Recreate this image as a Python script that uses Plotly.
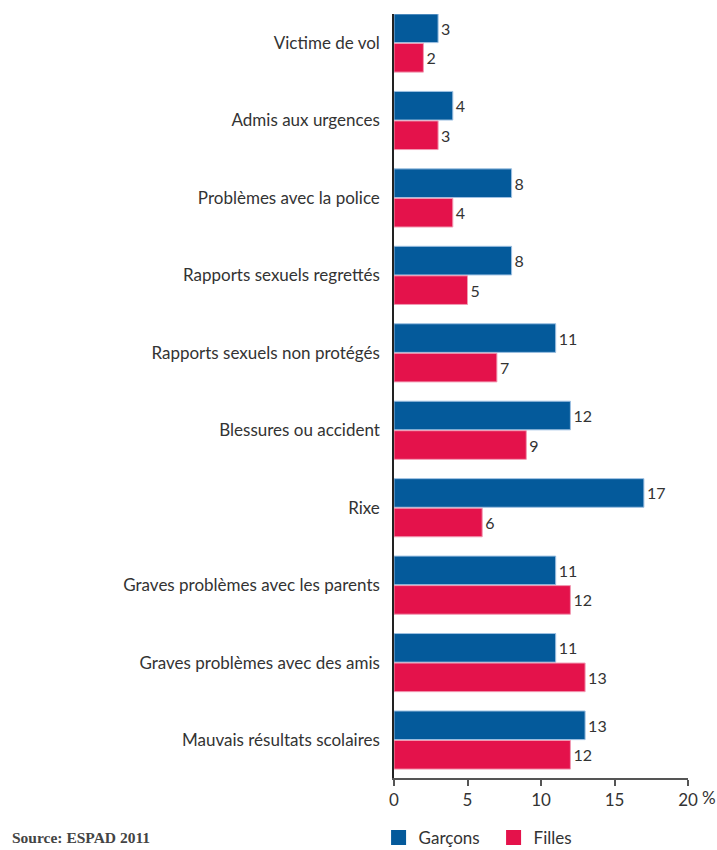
import plotly.graph_objects as go

categories = [
    "Victime de vol",
    "Admis aux urgences",
    "Problèmes avec la police",
    "Rapports sexuels regrettés",
    "Rapports sexuels non protégés",
    "Blessures ou accident",
    "Rixe",
    "Graves problèmes avec les parents",
    "Graves problèmes avec des amis",
    "Mauvais résultats scolaires",
]
garcons = [3, 4, 8, 8, 11, 12, 17, 11, 11, 13]
filles = [2, 3, 4, 5, 7, 9, 6, 12, 13, 12]
x_ticks = [0, 5, 10, 15, 20]
x_ticktext = ["0", "5", "10", "15", "20"]

BLUE = "#045a9b"
RED = "#e4124b"
FONT = "Lato"

fig = go.Figure()
fig.add_trace(go.Bar(
    y=categories, x=garcons, orientation="h", name="Garçons", showlegend=False,
    marker=dict(color=BLUE, line=dict(color="#9dc0e2", width=1)),
    text=[str(v) for v in garcons], textposition="outside",
    textfont=dict(family=FONT, size=16, color="#333333"), cliponaxis=False,
))
fig.add_trace(go.Bar(
    y=categories, x=filles, orientation="h", name="Filles", showlegend=False,
    marker=dict(color=RED, line=dict(color="#f19ab2", width=1)),
    text=[str(v) for v in filles], textposition="outside",
    textfont=dict(family=FONT, size=16, color="#333333"), cliponaxis=False,
))
# legend entries with larger square swatches
for name, col in [("Garçons", BLUE), ("Filles", RED)]:
    fig.add_trace(go.Scatter(
        x=[None], y=[None], mode="markers", name=name,
        marker=dict(symbol="square", size=15, color=col), showlegend=True,
    ))

fig.update_layout(
    width=717, height=850,
    margin=dict(l=394, r=29, t=14, b=72),
    paper_bgcolor="white", plot_bgcolor="white",
    barmode="group", bargap=0.238, bargroupgap=0.03,
    font=dict(family=FONT, size=16, color="#333333"),
    showlegend=True,
    legend=dict(orientation="h", xref="container", yref="container",
                x=0.528, xanchor="left", y=1 - 838 / 850, yanchor="middle",
                font=dict(family=FONT, size=17, color="#333333"),
                entrywidth=70, entrywidthmode="pixels", traceorder="normal"),
)
fig.update_xaxes(
    range=[0, 20], tickvals=x_ticks, ticktext=x_ticktext,
    showgrid=False, zeroline=False, automargin=False,
    showline=True, linecolor="#555555", linewidth=1.5,
    ticks="outside", ticklen=6, tickcolor="#555555", tickwidth=1.5,
    tickfont=dict(family=FONT, size=17, color="#333333"),
)
fig.update_yaxes(
    range=[9.49, -0.375], showgrid=False, zeroline=False, automargin=False,
    showline=True, linecolor="#222222", linewidth=1.5,
    ticks="", ticklabelstandoff=9,
    tickfont=dict(family=FONT, size=17, color="#333333"),
)
fig.add_annotation(xref="x", yref="paper", x=20, y=0, text="%", showarrow=False,
                   xanchor="left", yanchor="top", xshift=12, yshift=-7,
                   font=dict(family=FONT, size=17, color="#333333"))
fig.add_annotation(xref="paper", yref="paper", x=-1.305, y=-0.0785, text="<b>Source: ESPAD 2011</b>",
                   showarrow=False, xanchor="left", yanchor="middle",
                   font=dict(family="Liberation Serif", size=15.5, color="#444444"))

fig.write_html("out.html", config={"displayModeBar": False},
               post_script="document.body.style.margin='0';document.body.style.overflow='hidden';")
